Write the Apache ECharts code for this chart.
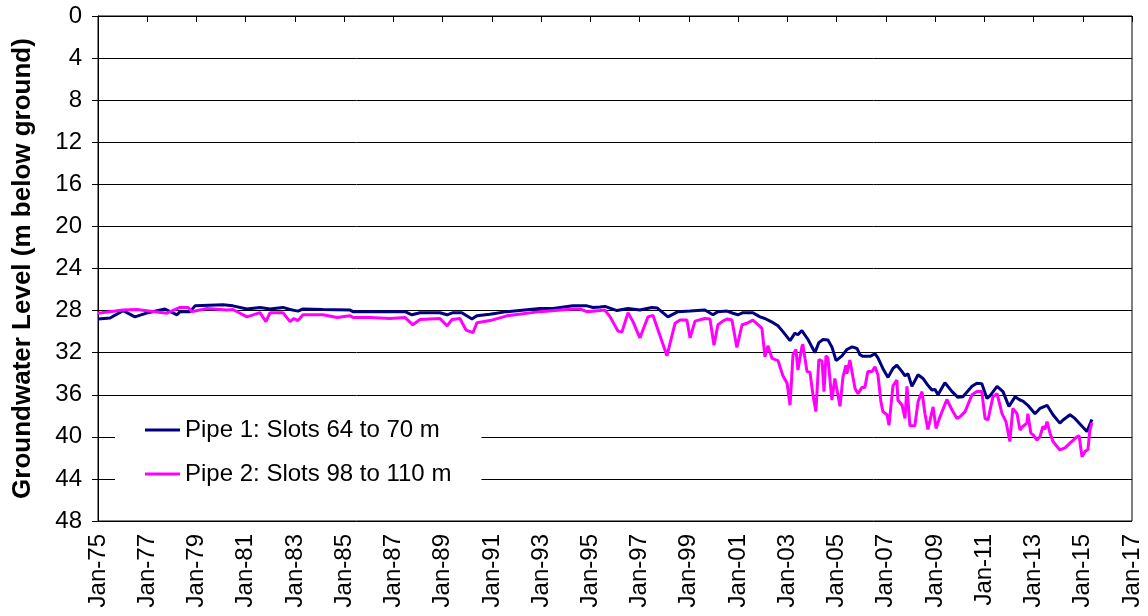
<!DOCTYPE html>
<html>
<head>
<meta charset="utf-8">
<script src="https://cdn.jsdelivr.net/npm/echarts@6/dist/echarts.min.js"></script>
<style>
html,body{margin:0;padding:0;background:#fff;}
#chart{width:1148px;height:616px;}
</style>
</head>
<body>
<div id="chart"></div>
<script>
// ---- Data (decimal years, metres below ground) ----
const BASE_YEAR = 1975;
const END_YEAR = 2017;
const YEAR_STEP = 2;
const DEPTH_TICKS = [0, 4, 8, 12, 16, 20, 24, 28, 32, 36, 40, 44, 48];

const pipe1Name = 'Pipe 1: Slots 64 to 70 m';
const pipe2Name = 'Pipe 2: Slots 98 to 110 m';

const pipe1Years = [
1975.00,1975.49,1976.02,1976.50,1977.03,1977.72,1978.21,1978.33,1978.74,1978.94,
1980.08,1980.48,1981.05,1981.58,1981.99,1982.51,1982.80,1983.12,1983.33,1984.14,
1985.24,1985.36,1986.17,1987.47,1987.75,1988.08,1988.89,1989.18,1989.42,1989.78,
1990.19,1990.39,1990.92,1991.61,1992.95,1993.48,1994.29,1994.86,1995.11,1995.39,
1995.59,1996.08,1996.53,1997.01,1997.50,1997.71,1998.15,1998.56,1999.05,1999.65,
1999.98,2000.18,2000.55,2000.79,2000.99,2001.20,2001.60,2001.89,2002.09,2002.30,
2002.42,2002.62,2002.82,2003.11,2003.31,2003.43,2003.59,2003.84,2004.12,2004.28,
2004.45,2004.65,2004.81,2004.98,2005.22,2005.42,2005.63,2005.83,2005.95,2006.07,
2006.36,2006.56,2006.68,2006.88,2007.09,2007.29,2007.45,2007.66,2007.78,2007.90,
2008.06,2008.31,2008.51,2008.71,2008.87,2009.00,2009.12,2009.40,2009.69,2009.93,
2010.13,2010.50,2010.70,2010.90,2011.11,2011.23,2011.52,2011.76,2012.00,2012.25,
2012.45,2012.57,2012.77,2013.06,2013.26,2013.55,2013.79,2014.07,2014.20,2014.48,
2014.68,2014.97,2015.17,2015.37
];
const pipe1Levels = [
28.8,28.7,28.0,28.6,28.2,27.85,28.4,28.1,28.1,27.55,
27.45,27.55,27.85,27.7,27.85,27.7,27.9,28.05,27.85,27.9,
27.95,28.1,28.1,28.1,28.4,28.2,28.2,28.4,28.2,28.2,
28.8,28.5,28.35,28.1,27.8,27.8,27.55,27.55,27.7,27.65,
27.6,28.0,27.8,27.95,27.7,27.75,28.6,28.1,28.05,27.95,
28.4,28.1,28.05,28.25,28.4,28.2,28.2,28.6,28.75,29.0,
29.15,29.45,30.0,30.85,30.15,30.3,29.9,30.75,32.0,31.05,
30.75,30.8,31.45,32.75,32.3,31.7,31.45,31.6,32.2,32.35,
32.35,32.1,32.5,33.5,34.35,33.5,33.2,33.8,34.2,34.0,
35.2,34.1,34.45,35.1,35.55,35.5,36.0,34.85,35.7,36.25,
36.2,35.2,34.9,34.95,36.35,36.1,35.2,35.7,37.1,36.2,
36.5,36.6,37.0,37.8,37.3,37.0,37.9,38.7,38.4,37.9,
38.25,39.0,39.5,38.35
];

const pipe2Years = [
1975.00,1976.02,1976.58,1977.80,1978.33,1978.66,1978.82,1979.43,1980.24,1980.48,
1981.05,1981.58,1981.82,1981.99,1982.51,1982.80,1982.96,1983.12,1983.33,1984.14,
1984.71,1985.24,1985.36,1986.05,1986.86,1987.47,1987.79,1988.08,1988.89,1989.18,
1989.38,1989.70,1989.95,1990.23,1990.39,1990.92,1991.61,1992.95,1994.29,1994.58,
1994.86,1995.39,1995.59,1995.80,1996.12,1996.28,1996.53,1996.73,1997.01,1997.34,
1997.54,1998.11,1998.44,1998.64,1998.92,1999.05,1999.25,1999.65,1999.86,2000.02,
2000.18,2000.38,2000.55,2000.75,2000.95,2001.16,2001.36,2001.60,2001.89,2001.97,
2002.09,2002.21,2002.38,2002.62,2002.82,2002.99,2003.11,2003.23,2003.35,2003.43,
2003.59,2003.63,2003.80,2003.92,2004.04,2004.16,2004.28,2004.41,2004.49,2004.57,
2004.65,2004.81,2004.93,2005.14,2005.26,2005.38,2005.42,2005.54,2005.75,2005.87,
2006.03,2006.15,2006.27,2006.44,2006.56,2006.68,2006.80,2006.88,2007.05,2007.13,
2007.29,2007.45,2007.49,2007.66,2007.78,2007.86,2007.98,2008.18,2008.31,2008.47,
2008.59,2008.71,2008.92,2009.04,2009.20,2009.48,2009.69,2009.89,2010.01,2010.22,
2010.50,2010.70,2010.90,2011.03,2011.15,2011.35,2011.52,2011.72,2011.88,2012.04,
2012.16,2012.33,2012.45,2012.57,2012.73,2012.77,2012.89,2012.98,2013.14,2013.26,
2013.38,2013.46,2013.55,2013.67,2013.79,2014.07,2014.28,2014.48,2014.76,2014.85,
2014.97,2015.09,2015.21,2015.29,2015.37
];
const pipe2Levels = [
28.25,27.95,27.9,28.25,27.7,27.7,28.1,27.8,27.95,27.9,
28.6,28.2,29.05,28.2,28.2,29.05,28.75,28.95,28.4,28.4,
28.65,28.5,28.65,28.65,28.75,28.65,29.35,28.85,28.75,29.45,
28.85,28.75,29.85,30.1,29.15,28.95,28.5,28.1,27.85,27.85,
28.1,28.0,27.95,28.6,29.95,30.05,28.2,29.05,30.6,28.6,
28.45,32.3,29.2,28.9,28.9,30.6,29.0,28.75,28.8,31.3,
29.35,29.0,28.8,28.9,31.5,29.35,29.2,28.9,29.5,29.7,
32.4,31.35,32.55,32.75,34.2,34.9,37.0,32.2,31.7,33.65,
31.45,31.2,33.8,33.85,36.0,37.6,32.65,32.8,35.7,32.3,
32.5,36.5,34.45,37.1,34.3,33.2,34.0,32.7,35.4,35.9,
35.3,35.3,33.8,33.8,33.35,34.1,36.65,37.6,37.9,38.9,
35.15,34.6,36.5,37.0,38.25,35.2,38.95,38.95,36.65,35.7,
37.8,39.3,37.15,39.2,38.1,36.45,37.45,38.25,38.1,37.6,
36.0,35.7,35.7,38.25,38.4,36.2,35.9,37.8,38.55,40.45,
37.3,37.8,39.35,39.0,38.7,37.8,39.65,39.8,40.3,40.0,
39.0,39.3,38.55,39.65,40.45,41.25,41.05,40.6,40.0,39.9,
41.9,41.4,41.2,39.35,38.65
];

// x values are measured as years since BASE_YEAR so ticks start at a multiple of the interval
function buildSeries(years, levels) {
  return years.map((y, i) => [+(y - BASE_YEAR).toFixed(3), levels[i]]);
}

const FONT = '"Liberation Sans", Arial, sans-serif';
const chart = echarts.init(document.getElementById('chart'), null, { renderer: 'canvas' });

chart.setOption({
  animation: false,
  backgroundColor: '#ffffff',
  grid: {
    left: 98, right: 16, top: 16, bottom: 95,
    show: true, borderColor: '#000', borderWidth: 1, backgroundColor: 'transparent'
  },
  legend: {
    orient: 'vertical',
    left: 115, top: 408,
    padding: [10, 30, 10, 30],
    backgroundColor: '#ffffff',
    icon: 'rect',
    itemWidth: 35, itemHeight: 3,
    itemGap: 20,
    textStyle: { fontSize: 24, color: '#000', fontFamily: FONT },
    data: [pipe1Name, pipe2Name]
  },
  xAxis: {
    type: 'value',
    min: 0, max: END_YEAR - BASE_YEAR, interval: YEAR_STEP,
    axisLine: { show: true, lineStyle: { color: '#000', width: 1 } },
    axisTick: { show: true, inside: false, length: 6, lineStyle: { color: '#000' } },
    splitLine: { show: false },
    axisLabel: {
      rotate: 90, margin: 13, fontSize: 24, color: '#000', fontFamily: FONT,
      formatter: v => 'Jan-' + String(BASE_YEAR + v).slice(2)
    }
  },
  yAxis: {
    type: 'value',
    inverse: true,
    min: DEPTH_TICKS[0], max: DEPTH_TICKS[DEPTH_TICKS.length - 1], interval: 4,
    name: 'Groundwater Level (m below ground)',
    nameLocation: 'middle',
    nameGap: 62,
    nameRotate: 90,
    nameTextStyle: { fontSize: 26, fontWeight: 'bold', color: '#000', fontFamily: FONT },
    axisLine: { show: true, lineStyle: { color: '#000', width: 1 } },
    axisTick: { show: true, inside: false, length: 6, lineStyle: { color: '#000' } },
    splitLine: { show: true, lineStyle: { color: '#000', width: 1 } },
    axisLabel: { margin: 16, fontSize: 24, color: '#000', fontFamily: FONT }
  },
  series: [
    {
      name: pipe1Name, type: 'line', showSymbol: false, symbol: 'none',
      lineStyle: { color: '#000080', width: 3 }, itemStyle: { color: '#000080' },
      data: buildSeries(pipe1Years, pipe1Levels)
    },
    {
      name: pipe2Name, type: 'line', showSymbol: false, symbol: 'none',
      lineStyle: { color: '#FF00FF', width: 3 }, itemStyle: { color: '#FF00FF' },
      data: buildSeries(pipe2Years, pipe2Levels)
    }
  ]
});
</script>
</body>
</html>
